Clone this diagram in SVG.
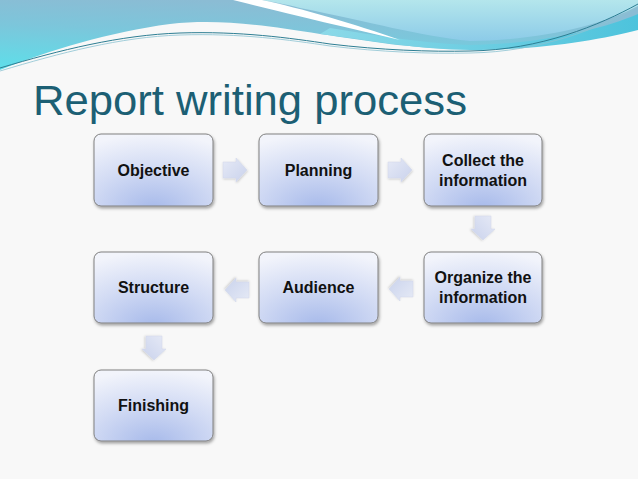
<svg xmlns="http://www.w3.org/2000/svg" width="638" height="479" viewBox="0 0 638 479">
<defs>
<linearGradient id="hdrL" x1="0" y1="1" x2="0.3" y2="0">
<stop offset="0" stop-color="#5ddfea"/>
<stop offset="0.6" stop-color="#7cc6db"/>
<stop offset="1" stop-color="#8bbcd4"/>
</linearGradient>
<linearGradient id="hdrR" x1="0" y1="0" x2="0" y2="1">
<stop offset="0" stop-color="#b4e6ec"/>
<stop offset="1" stop-color="#8ccbe8"/>
</linearGradient>
<linearGradient id="hdrB" x1="0" y1="0" x2="1" y2="0">
<stop offset="0" stop-color="#8cd9e8"/>
<stop offset="1" stop-color="#4dc3dc"/>
</linearGradient>
<radialGradient id="boxG" cx="0.5" cy="1" r="1" fx="0.5" fy="1.05">
<stop offset="0" stop-color="#a6b9ea"/>
<stop offset="0.55" stop-color="#d2dbf4"/>
<stop offset="1" stop-color="#f2f4fb"/>
</radialGradient>
<linearGradient id="arrG" x1="0" y1="0" x2="1" y2="1">
<stop offset="0" stop-color="#e6eaf6"/>
<stop offset="1" stop-color="#c9d2ec"/>
</linearGradient>
<filter id="sh" x="-10%" y="-10%" width="125%" height="130%">
<feDropShadow dx="1" dy="2" stdDeviation="1.5" flood-color="#000" flood-opacity="0.35"/>
</filter>
<filter id="ash" x="-20%" y="-20%" width="150%" height="150%">
<feDropShadow dx="0.5" dy="1" stdDeviation="0.8" flood-color="#000" flood-opacity="0.2"/>
</filter>
</defs>
<style>
.box{fill:url(#boxG);stroke:#808080;stroke-width:1;filter:url(#sh)}
.lbl{font-family:"Liberation Sans",Arial,sans-serif;font-weight:bold;font-size:16px;fill:#111;text-anchor:middle}
.arr{fill:url(#arrG);stroke:#d0d6ea;stroke-width:0.5;filter:url(#ash)}
</style>
<rect width="638" height="479" fill="#f8f8f8"/>
<g id="header">
<path d="M0,0 H638 V22 C590,36 530,48 470,49 C410,49 370,41 320,34 C260,24 215,19 170,24 C110,32 50,50 0,70 Z" fill="url(#hdrL)"/>
<path d="M330,28 C380,36 430,44 470,45 C540,44 600,30 638,14 V30 C600,40 540,50 470,50 C420,50 370,40 320,34 Z" fill="url(#hdrB)"/>
<path d="M262,0 H638 V6 C600,26 540,40 470,41 C420,36 370,22 300,8 C285,4 272,2 262,0 Z" fill="url(#hdrR)"/>
<path d="M233,0 C280,12 340,26 400,40 C355,24 300,8 262,0 Z" fill="#ffffff"/>
<path d="M0,68 C60,50 120,35 180,33 C240,31 290,38 330,44 C380,50 430,52 470,51 C540,50 600,25 638,4" fill="none" stroke="#2e7e93" stroke-width="1"/>
<path d="M0,71 C60,53 120,37 180,35 C240,33 290,40 330,46 C380,52 430,54 470,53 C540,52 600,28 638,7" fill="none" stroke="#8cc3d2" stroke-width="0.8"/>
</g>
<text id="title" x="33" y="115" font-family="'Liberation Sans',Arial,sans-serif" font-size="42" fill="#1c5f74" textLength="434" lengthAdjust="spacingAndGlyphs">Report writing process</text>
<g id="connectors">
<path class="arr" transform="translate(223,170)" d="M0,-8 H13 V-12 L24,0 L13,12 V8 H0 Z"/>
<path class="arr" transform="translate(388,170)" d="M0,-8 H13 V-12 L24,0 L13,12 V8 H0 Z"/>
<path class="arr" transform="translate(483,216) rotate(90)" d="M0,-8 H13 V-12 L24,0 L13,12 V8 H0 Z"/>
<path class="arr" transform="translate(413,289) rotate(180)" d="M0,-8 H13 V-12 L24,0 L13,12 V8 H0 Z"/>
<path class="arr" transform="translate(249,290) rotate(180)" d="M0,-8 H13 V-12 L24,0 L13,12 V8 H0 Z"/>
<path class="arr" transform="translate(154,336) rotate(90)" d="M0,-8 H13 V-12 L24,0 L13,12 V8 H0 Z"/>
</g>
<g id="objective"><rect class="box" x="94" y="134" width="119" height="72" rx="7"/><text class="lbl" x="153.5" y="176">Objective</text></g>
<g id="planning"><rect class="box" x="259" y="134" width="119" height="72" rx="7"/><text class="lbl" x="318.5" y="176">Planning</text></g>
<g id="collect"><rect class="box" x="424" y="134" width="118" height="72" rx="7"/><text class="lbl" x="483" y="166">Collect the</text><text class="lbl" x="483" y="186">information</text></g>
<g id="organize"><rect class="box" x="424" y="252" width="118" height="71" rx="7"/><text class="lbl" x="483" y="283">Organize the</text><text class="lbl" x="483" y="303">information</text></g>
<g id="audience"><rect class="box" x="259" y="252" width="119" height="71" rx="7"/><text class="lbl" x="318.5" y="293">Audience</text></g>
<g id="structure"><rect class="box" x="94" y="252" width="119" height="71" rx="7"/><text class="lbl" x="153.5" y="293">Structure</text></g>
<g id="finishing"><rect class="box" x="94" y="370" width="119" height="71" rx="7"/><text class="lbl" x="153.5" y="411">Finishing</text></g>
</svg>
